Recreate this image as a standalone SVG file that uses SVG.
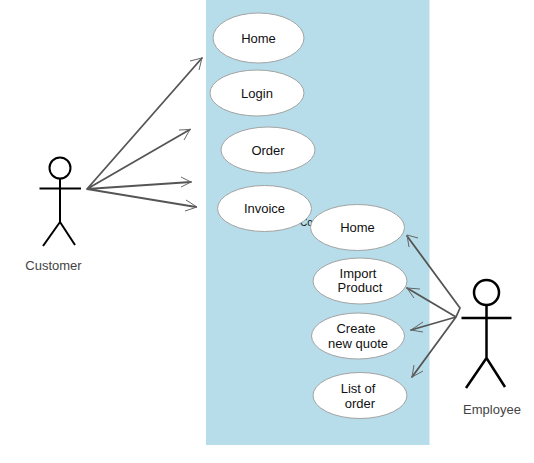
<svg xmlns="http://www.w3.org/2000/svg" width="534" height="463" viewBox="0 0 534 463">
<style>
.u{fill:#fff;stroke:#a3a3a3;stroke-width:1}
.t{font-family:"Liberation Sans",Arial,sans-serif;font-size:13px;fill:#111;text-anchor:middle}
.a{font-family:"Liberation Sans",Arial,sans-serif;font-size:13px;fill:#444;text-anchor:middle}
.c{fill:none;stroke:#555;stroke-width:1.8;stroke-linecap:round;stroke-linejoin:round}
.h{fill:none;stroke:#666;stroke-width:1}
.s{fill:none;stroke:#000}
</style>
<rect x="206" y="0" width="223.500" height="445" fill="#b6dde9"/>
<text x="300" y="226" font-family="Liberation Sans,Arial,sans-serif" font-size="10" fill="#111">Con</text>
<g id="connectors">
<path class="c" d="M87 189L202 58M87 189L190 129.500M87 189L191 182M87 189L196 207"/>
<path class="h" d="M190 61L202 58L199 70M179 130L190 129.500L184 140M181 177L191 182L181 187M186 200L197 207L185 211"/>
<path class="c" d="M456 317L460 308L407 236M456 317L407 288M456 317L411 330M456 317L412 377"/>
<path class="h" d="M418 238L407 235L409 247M420 289L407 288L414 298M423 322L411 330L423 332M423 371L412 377L414 365"/>
</g>
<g id="home1"><ellipse class="u" cx="258.500" cy="38" rx="45.500" ry="25"/><text class="t" x="258.500" y="43">Home</text></g>
<g id="login"><ellipse class="u" cx="257" cy="93" rx="47" ry="23"/><text class="t" x="257" y="98">Login</text></g>
<g id="order"><ellipse class="u" cx="268" cy="150" rx="47" ry="23"/><text class="t" x="268" y="155">Order</text></g>
<g id="invoice"><ellipse class="u" cx="264.500" cy="208.500" rx="47" ry="23"/><text class="t" x="264.500" y="213">Invoice</text></g>
<g id="home2"><ellipse class="u" cx="357.500" cy="227.500" rx="47" ry="23"/><text class="t" x="357.500" y="232">Home</text></g>
<g id="import"><ellipse class="u" cx="360" cy="281" rx="47" ry="23"/><text class="t" x="358" y="278">Import</text><text class="t" x="360" y="292">Product</text></g>
<g id="quote"><ellipse class="u" cx="358" cy="336" rx="46.500" ry="23"/><text class="t" x="356" y="333">Create</text><text class="t" x="358" y="348">new quote</text></g>
<g id="list"><ellipse class="u" cx="360" cy="395.500" rx="47" ry="23"/><text class="t" x="358" y="393">List of</text><text class="t" x="360" y="408">order</text></g>
<g id="customer">
<circle class="s" cx="60" cy="168" r="10.500" stroke-width="2"/>
<path class="s" stroke-width="2" d="M60 178.500V222M39.500 188.500H81M60 222L43 246M60 222L75 245"/>
<text class="a" x="53.500" y="270">Customer</text>
</g>
<g id="employee">
<circle class="s" cx="486.500" cy="292.500" r="12.500" stroke-width="2.500"/>
<path class="s" stroke-width="2.500" d="M486.500 305V358M461.500 318H511.500M486.500 358L466 388M486.500 358L505 387"/>
<text class="a" x="492" y="414">Employee</text>
</g>
</svg>
